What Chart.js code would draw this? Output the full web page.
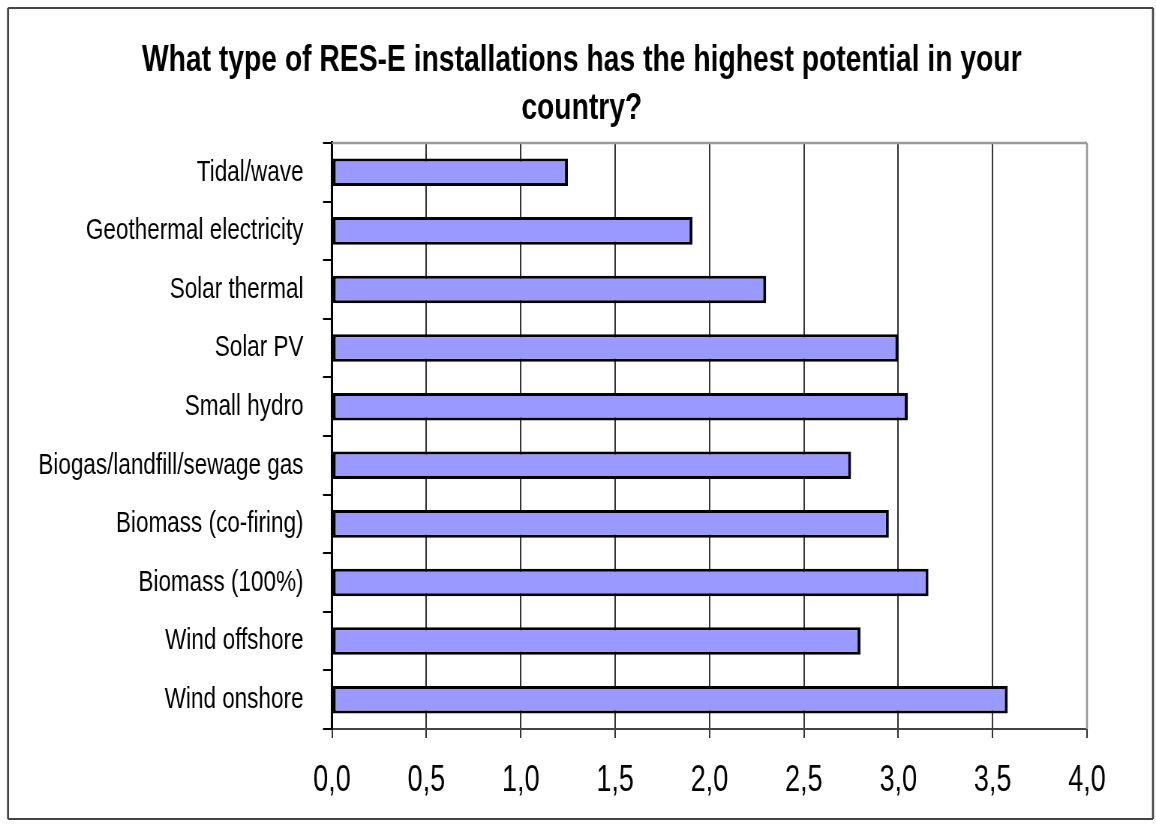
<!DOCTYPE html>
<html>
<head>
<meta charset="utf-8">
<script src="https://cdn.jsdelivr.net/npm/chart.js@4/dist/chart.umd.min.js"></script>
<style>
html,body{margin:0;padding:0;background:#fff;}
#c{display:block;width:1156px;height:832px;}
</style>
</head>
<body>
<canvas id="c" width="1541" height="832" style="width:1156px;height:832px;display:block"></canvas>
<script>
// ---- data ----
const categories = [
  'Tidal/wave',
  'Geothermal electricity',
  'Solar thermal',
  'Solar PV',
  'Small hydro',
  'Biogas/landfill/sewage gas',
  'Biomass (co-firing)',
  'Biomass (100%)',
  'Wind offshore',
  'Wind onshore'
];
const potentialScores = [1.25, 1.91, 2.30, 3.00, 3.05, 2.75, 2.95, 3.16, 2.80, 3.58];
const xTickLabels = ['0,0', '0,5', '1,0', '1,5', '2,0', '2,5', '3,0', '3,5', '4,0'];
const titleLines = ['What type of RES-E installations has the highest potential in your', 'country?'];

// canvas is drawn wider and shown squeezed horizontally (like the reference)
const SX = 1156 / 1541;

function hasFont(name) {
  const ctx = document.createElement('canvas').getContext('2d');
  const t = 'Biogas/landfill/sewage gas WWW iii';
  let diff = false;
  for (const fb of ['monospace', 'serif']) {
    ctx.font = '40px ' + fb;
    const a = ctx.measureText(t).width;
    ctx.font = '40px "' + name + '", ' + fb;
    const b = ctx.measureText(t).width;
    if (Math.abs(a - b) > 0.5) diff = true;
  }
  return diff;
}
const narrow = hasFont('Liberation Sans Narrow');
const labelFont = narrow
  ? { family: '"Liberation Sans Narrow", "Liberation Sans", Arial, sans-serif', size: 36.5 }
  : { family: '"Liberation Sans", Arial, sans-serif', size: 30 };

const X = v => v / SX; // css px -> internal px (horizontal)

const framePlugin = {
  id: 'frame',
  afterDraw(chart) {
    const ctx = chart.ctx;
    const a = chart.chartArea;
    ctx.save();
    // plot top/right border (grey)
    ctx.strokeStyle = '#999999';
    ctx.lineWidth = 2.5;
    ctx.beginPath();
    ctx.moveTo(a.left, a.top);
    ctx.lineTo(a.right, a.top);
    ctx.stroke();
    ctx.lineWidth = 2.6;
    ctx.beginPath();
    ctx.moveTo(a.right, a.top);
    ctx.lineTo(a.right, a.bottom);
    ctx.stroke();
    // outer frame
    ctx.strokeStyle = '#444444';
    ctx.lineWidth = 2;
    ctx.beginPath();
    ctx.moveTo(X(8), 8); ctx.lineTo(X(1153), 8);
    ctx.moveTo(X(8), 819); ctx.lineTo(X(1153), 819);
    ctx.stroke();
    ctx.lineWidth = 2.7;
    ctx.beginPath();
    ctx.moveTo(X(8), 8); ctx.lineTo(X(8), 819);
    ctx.moveTo(X(1153), 8); ctx.lineTo(X(1153), 819);
    ctx.stroke();
    ctx.restore();
  }
};

const PLOT_LEFT = X(332);
const PLOT_RIGHT = X(1087);
const PAD_LEFT = 10;

new Chart(document.getElementById('c'), {
  type: 'bar',
  data: {
    labels: categories,
    datasets: [{
      data: potentialScores,
      backgroundColor: '#9999FF',
      borderColor: '#000000',
      borderWidth: { top: 3, bottom: 3, left: 4, right: 4 },
      borderSkipped: false,
      barPercentage: 0.47,
      categoryPercentage: 1.0
    }]
  },
  options: {
    indexAxis: 'y',
    responsive: false,
    devicePixelRatio: 1,
    animation: false,
    layout: { padding: { left: PAD_LEFT, right: 0, top: 0, bottom: 0 } },
    plugins: {
      legend: { display: false },
      tooltip: { enabled: false },
      title: {
        display: true,
        text: titleLines,
        color: '#000000',
        font: { family: '"Liberation Sans", Arial, sans-serif', size: 37.7, weight: 'bold', lineHeight: 1.273 },
        padding: { top: 37, bottom: 10 }
      }
    },
    scales: {
      x: {
        type: 'linear',
        min: 0,
        max: 4,
        ticks: {
          stepSize: 0.5,
          color: '#000000',
          padding: 21,
          font: { family: '"Liberation Sans", Arial, sans-serif', size: 36 },
          callback: (v, i) => xTickLabels[i]
        },
        grid: { color: '#333333', lineWidth: 2, tickLength: 9, drawOnChartArea: true, drawTicks: true },
        border: { color: '#444444', width: 2 },
        afterFit(axis) {
          axis.height = 832 - 729;
          axis.paddingRight = 1541 - PLOT_RIGHT;
        }
      },
      y: {
        type: 'category',
        ticks: {
          color: '#000000',
          padding: 26,
          font: labelFont,
          autoSkip: false
        },
        grid: { offset: true, drawOnChartArea: false, drawTicks: true, tickLength: 12, color: '#000000', lineWidth: 2 },
        border: { color: '#000000', width: 3 },
        afterFit(axis) {
          axis.width = PLOT_LEFT - PAD_LEFT;
        }
      }
    }
  },
  plugins: [framePlugin]
});
</script>
</body>
</html>
